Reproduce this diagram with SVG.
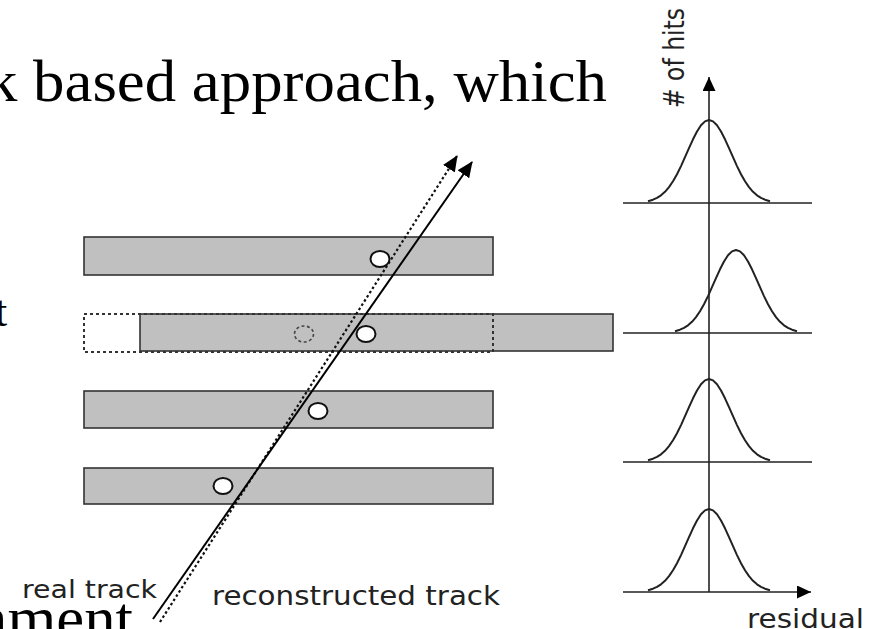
<svg xmlns="http://www.w3.org/2000/svg" xmlns:xlink="http://www.w3.org/1999/xlink" width="880" height="629" viewBox="0 0 880 629">
<style>
.bar{fill:#c0c0c0;stroke:#333;stroke-width:1.6}
.ghost{fill:none;stroke:#333;stroke-width:2;stroke-dasharray:3 3}
.hit{fill:#fff;stroke:#111;stroke-width:2}
.ghosthit{fill:none;stroke:#444;stroke-width:1.6;stroke-dasharray:3 2.5}
.axis{stroke:#222;stroke-width:1.6;fill:none}
.gauss{fill:none;stroke:#222;stroke-width:2;stroke-linejoin:round}
.sans{font-family:"DejaVu Sans","Liberation Sans",sans-serif;fill:#222}
.serif{font-family:"Liberation Serif","Times New Roman",serif;fill:#000}
</style>
<defs>
<marker id="ah" markerUnits="userSpaceOnUse" viewBox="0 0 16 14" refX="15" refY="7" markerWidth="16" markerHeight="14" orient="auto">
<path d="M0,0 L16,7 L0,14 z" fill="#000"/>
</marker>
<marker id="axh" markerUnits="userSpaceOnUse" viewBox="0 0 14 13" refX="14" refY="6.5" markerWidth="14" markerHeight="13" orient="auto">
<path d="M0,0 L14,6.5 L0,13 z" fill="#000"/>
</marker>
<polyline id="g" class="gauss" points="-61,-1.8 -56,-3.3 -52,-5.1 -48,-7.7 -44,-11.2 -40,-15.9 -36,-21.8 -32,-28.8 -28,-36.9 -24,-45.8 -20,-54.9 -16,-63.7 -12,-71.5 -8,-77.7 -4,-81.6 0,-83 4,-81.6 8,-77.7 12,-71.5 16,-63.7 20,-54.9 24,-45.8 28,-36.9 32,-28.8 36,-21.8 40,-15.9 44,-11.2 48,-7.7 52,-5.1 56,-3.3 61,-1.8"/>
</defs>
<rect width="880" height="629" fill="#fff"/>

<text class="serif" x="-14" y="101" font-size="60" textLength="621" lengthAdjust="spacingAndGlyphs">k based approach, which</text>
<text class="serif" x="-5" y="326" font-size="44">t</text>
<text class="serif" x="-24" y="639" font-size="62" textLength="157" lengthAdjust="spacingAndGlyphs">nment</text>

<g id="layer1">
<rect class="bar" x="84" y="237" width="409" height="38"/>
<ellipse class="hit" cx="380" cy="259" rx="9.5" ry="8"/>
</g>
<g id="layer2">
<rect class="bar" x="140" y="314" width="473" height="37"/>
<rect class="ghost" x="84" y="314" width="409" height="38"/>
<ellipse class="ghosthit" cx="304" cy="334" rx="9.5" ry="8"/>
<ellipse class="hit" cx="366" cy="334" rx="9.5" ry="8"/>
</g>
<g id="layer3">
<rect class="bar" x="84" y="391" width="409" height="37"/>
<ellipse class="hit" cx="318" cy="411" rx="9.5" ry="8"/>
</g>
<g id="layer4">
<rect class="bar" x="84" y="468" width="409" height="36"/>
<ellipse class="hit" cx="223" cy="486" rx="9.5" ry="8"/>
</g>

<g id="tracks">
<line x1="160" y1="622" x2="457" y2="156" stroke="#111" stroke-width="2.2" stroke-dasharray="2.5 2.5" marker-end="url(#ah)"/>
<line x1="153" y1="619" x2="472" y2="162" stroke="#000" stroke-width="2" marker-end="url(#ah)"/>
</g>

<g id="histograms">
<line class="axis" x1="709" y1="592" x2="709" y2="77" marker-end="url(#axh)"/>
<line class="axis" x1="623" y1="203" x2="812" y2="203"/>
<line class="axis" x1="623" y1="333" x2="812" y2="333"/>
<line class="axis" x1="623" y1="462" x2="812" y2="462"/>
<line class="axis" x1="623" y1="592" x2="811" y2="592" marker-end="url(#axh)"/>
<use xlink:href="#g" transform="translate(709,203)"/>
<use xlink:href="#g" transform="translate(736,333)"/>
<use xlink:href="#g" transform="translate(709,462)"/>
<use xlink:href="#g" transform="translate(709,592)"/>
</g>

<g id="labels">
<text class="sans" transform="translate(684,108) rotate(-90)" font-size="28" textLength="100" lengthAdjust="spacingAndGlyphs">#  of hits</text>
<text class="sans" x="747" y="628" font-size="26" textLength="117" lengthAdjust="spacingAndGlyphs">residual</text>
<text class="sans" x="22" y="598" font-size="25" textLength="135" lengthAdjust="spacingAndGlyphs">real track</text>
<text class="sans" x="212" y="605" font-size="26" textLength="288" lengthAdjust="spacingAndGlyphs">reconstructed track</text>
</g>
</svg>
